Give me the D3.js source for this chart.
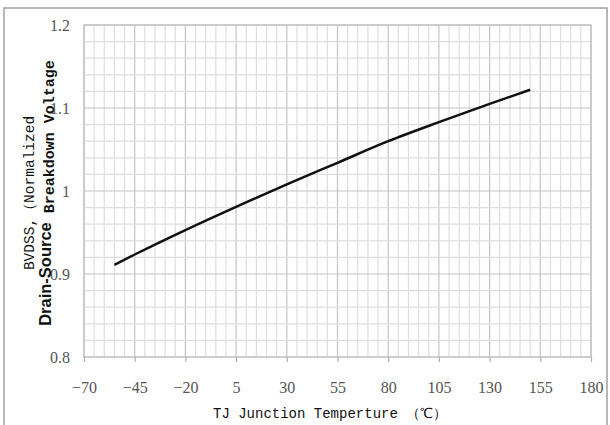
<!DOCTYPE html>
<html><head><meta charset="utf-8">
<script src="https://cdn.jsdelivr.net/npm/d3@7"></script>
<style>body{margin:0;background:#fff}svg{display:block}</style>
</head><body>
<svg id="c" width="610" height="425"></svg>
<script>
const temps = [-55, -45, -20, 5, 30, 55, 80, 105, 130, 150];
const bvdss = [0.911, 0.9235, 0.953, 0.981, 1.008, 1.034, 1.060, 1.083, 1.105, 1.122];
const xTicks = [-70, -45, -20, 5, 30, 55, 80, 105, 130, 155, 180];
const yTicks = [0.8, 0.9, 1.0, 1.1, 1.2];
const yTickLabels = ["0.8", "0.9", "1", "1.1", "1.2"];

const svg = d3.select("#c");
const L = 84, R = 591, T = 25, B = 357;
const x = d3.scaleLinear().domain([-70, 180]).range([L, R]);
const y = d3.scaleLinear().domain([0.8, 1.2]).range([B, T]);

// outer frame
svg.append("rect").attr("x", 4).attr("y", 8).attr("width", 603).attr("height", 430)
  .attr("fill", "none").attr("stroke", "#a6a6a6").attr("stroke-width", 1.6);

// grid
const g = svg.append("g");
d3.range(-70, 180.1, 5).forEach(v => {
  const major = Math.abs((v + 70) % 25) < 1e-6;
  g.append("line").attr("x1", x(v)).attr("x2", x(v)).attr("y1", T).attr("y2", B)
    .attr("stroke", major ? "#c4c4c4" : "#dedede").attr("stroke-width", 1.2);
});
d3.range(0, 21).forEach(i => {
  const v = 0.8 + i * 0.02;
  const major = i % 5 === 0;
  g.append("line").attr("x1", L).attr("x2", R).attr("y1", y(v)).attr("y2", y(v))
    .attr("stroke", major ? "#c4c4c4" : "#dedede").attr("stroke-width", 1.2);
});
svg.append("rect").attr("x", L).attr("y", T).attr("width", R - L).attr("height", B - T)
  .attr("fill", "none").attr("stroke", "#c0c0c0").attr("stroke-width", 1.2);

const tickFont = "'Liberation Serif','Times New Roman',serif";
// x axis
const xa = svg.append("g").attr("transform", `translate(0,${B})`)
  .call(d3.axisBottom(x).tickValues(xTicks).tickSize(5).tickPadding(20).tickFormat(d => d < 0 ? "\u2212" + Math.abs(d) : d));
xa.select(".domain").remove();
xa.selectAll("line").attr("stroke", "#b0b0b0").attr("stroke-width", 1.2);
xa.selectAll("text").attr("fill", "#555").style("font-family", tickFont).style("font-size", "16px");

// y axis
const ya = svg.append("g").attr("transform", `translate(${L},0)`)
  .call(d3.axisLeft(y).tickValues(yTicks).tickSize(0).tickPadding(14).tickFormat((d, i) => yTickLabels[i]));
ya.select(".domain").remove();
ya.selectAll("text").attr("fill", "#555").style("font-family", tickFont).style("font-size", "16px");

// curve
const data = temps.map((t, i) => ({t, v: bvdss[i]}));
svg.append("path").datum(data)
  .attr("d", d3.line().x(d => x(d.t)).y(d => y(d.v)).curve(d3.curveMonotoneX))
  .attr("fill", "none").attr("stroke", "#111").attr("stroke-width", 2.5);

// axis titles
svg.append("text").attr("x", 213).attr("y", 418)
  .style("font-family", "'Liberation Mono','DejaVu Sans Mono',monospace").style("font-size", "14px").attr("fill", "#111")
  .text("TJ  Junction Temperture \uFF08\u2103\uFF09");

const yt = svg.append("g").attr("transform", "translate(0,193) rotate(-90)");
yt.append("text").attr("x", 0).attr("y", 34).attr("text-anchor", "middle")
  .style("font-family", "'Liberation Mono','DejaVu Sans Mono',monospace").style("font-size", "14.5px").attr("fill", "#111")
  .text("BVDSS,\uFF08Normalized");
const t2 = yt.append("text").attr("x", 0).attr("y", 51).attr("text-anchor", "middle").attr("fill", "#111");
t2.append("tspan").style("font-family", "'Liberation Sans',Arial,sans-serif").style("font-weight", "bold").style("font-size", "16.5px").text("Drain-Source");
t2.append("tspan").attr("dy", 3).style("font-family", "'Liberation Mono',monospace").style("font-weight", "bold").style("font-size", "15px").text(" Breakdown Voltage");
</script>
</body></html>
